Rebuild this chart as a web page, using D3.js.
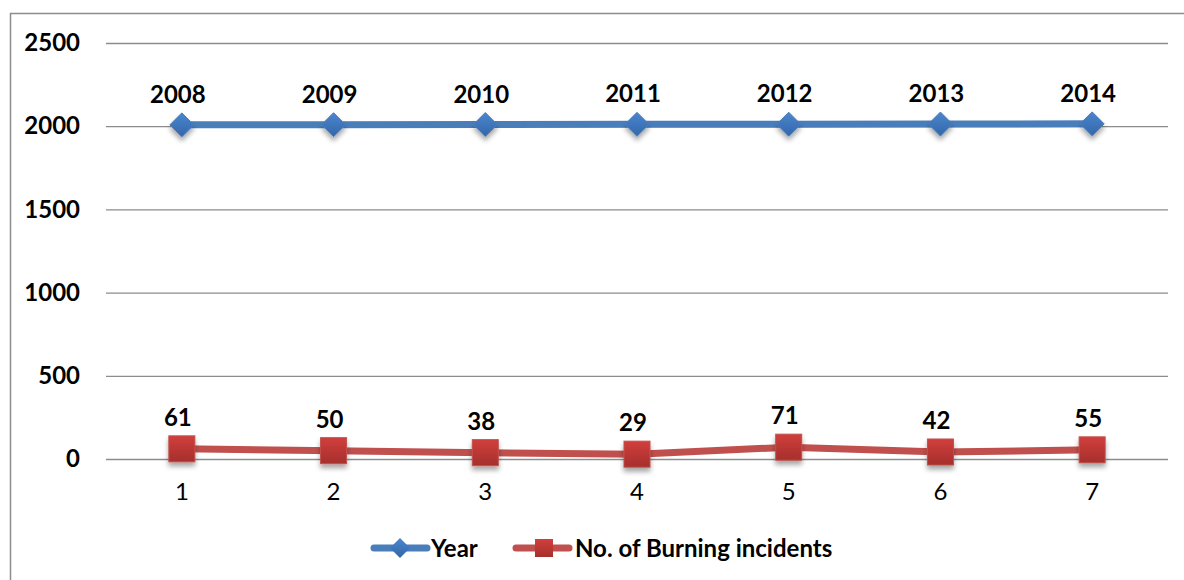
<!DOCTYPE html>
<html>
<head>
<meta charset="utf-8">
<script src="https://cdn.jsdelivr.net/npm/d3@7"></script>
<style>
  html, body { margin: 0; padding: 0; background: #fff; }
  svg { display: block; font-family: Lato, "Open Sans", "Liberation Sans", sans-serif; }
</style>
</head>
<body>
<svg id="chart" width="1184" height="580"></svg>
<script>
// Category indices along the x axis
const categories = [1, 2, 3, 4, 5, 6, 7];
// Series values
const years = [2008, 2009, 2010, 2011, 2012, 2013, 2014];
const burningIncidents = [61, 50, 38, 29, 71, 42, 55];
// Y axis ticks
const yTicks = [0, 500, 1000, 1500, 2000, 2500];
const seriesNames = ["Year", "No. of Burning incidents"];

const svg = d3.select("#chart");
const W = 1184, H = 580;
const plot = { left: 106, right: 1168, top: 43, bottom: 459 };
const FONT = "Lato, 'Open Sans', sans-serif";
const FS = 24;

// Chart-area frame
svg.append("rect")
  .attr("x", 10.5).attr("y", 13.5)
  .attr("width", W + 20).attr("height", H + 20)
  .attr("fill", "none").attr("stroke", "#8c8c8c").attr("stroke-width", 1.5);

const x = d3.scaleBand().domain(categories).range([plot.left, plot.right]);
const y = d3.scaleLinear().domain([0, 2500]).range([plot.bottom, plot.top]);
const cx = d => x(d) + x.bandwidth() / 2;

const defs = svg.append("defs");
const shadow = defs.append("filter").attr("id", "shadow")
  .attr("x", "-50%").attr("y", "-50%").attr("width", "200%").attr("height", "220%");
shadow.append("feDropShadow").attr("dx", 0).attr("dy", 4).attr("stdDeviation", 2.5)
  .attr("flood-color", "#000").attr("flood-opacity", 0.35);

const gBlue = defs.append("linearGradient").attr("id", "gBlue").attr("x1", 0).attr("y1", 0).attr("x2", 0).attr("y2", 1);
gBlue.append("stop").attr("offset", "0%").attr("stop-color", "#4a86cf");
gBlue.append("stop").attr("offset", "100%").attr("stop-color", "#3466a8");
const gRed = defs.append("linearGradient").attr("id", "gRed").attr("x1", 0).attr("y1", 0).attr("x2", 0).attr("y2", 1);
gRed.append("stop").attr("offset", "0%").attr("stop-color", "#d13f3c");
gRed.append("stop").attr("offset", "100%").attr("stop-color", "#a52f2c");

// Horizontal gridlines + y labels
const yAxis = d3.axisLeft(y).tickValues(yTicks).tickFormat(d3.format("d"))
  .tickSize(-(plot.right - plot.left)).tickPadding(26);
const gy = svg.append("g").attr("transform", `translate(${plot.left},0)`).call(yAxis);
gy.select(".domain").remove();
gy.selectAll(".tick line").attr("stroke", "#8c8c8c").attr("stroke-width", 1.3);
gy.selectAll(".tick text")
  .attr("fill", "#000").attr("font-size", FS).attr("font-weight", "bold")
  .attr("font-family", FONT);

// X labels
const xAxis = d3.axisBottom(x).tickSize(0).tickPadding(24);
const gx = svg.append("g").attr("transform", `translate(0,${plot.bottom})`).call(xAxis);
gx.select(".domain").remove();
gx.selectAll(".tick text")
  .attr("fill", "#000").attr("font-size", FS)
  .attr("font-family", FONT);

const line = d3.line().x((d, i) => cx(categories[i])).y(d => y(d));

// Year series
svg.append("path").datum(years).attr("d", line)
  .attr("fill", "none").attr("stroke", "#4a7ebb").attr("stroke-width", 7);
const dSize = 12;
svg.append("g").selectAll("path").data(years).join("path")
  .attr("d", (d, i) => {
    const px = cx(categories[i]), py = y(d);
    return `M${px},${py - dSize}L${px + dSize},${py}L${px},${py + dSize}L${px - dSize},${py}Z`;
  })
  .attr("fill", "url(#gBlue)").attr("stroke", "#4a7ebb").attr("stroke-width", 1)
  .attr("filter", "url(#shadow)");
svg.append("g").selectAll("text").data(years).join("text")
  .attr("x", (d, i) => cx(categories[i]) - 4)
  .attr("y", d => y(d) - 22)
  .attr("text-anchor", "middle").attr("font-size", FS).attr("font-weight", "bold")
  .text(d => d);

// Burning incidents series
svg.append("path").datum(burningIncidents).attr("d", line)
  .attr("fill", "none").attr("stroke", "#c0504d").attr("stroke-width", 7);
const sSize = 26;
svg.append("g").selectAll("rect").data(burningIncidents).join("rect")
  .attr("x", (d, i) => cx(categories[i]) - sSize / 2)
  .attr("y", d => y(d) - sSize / 2)
  .attr("width", sSize).attr("height", sSize)
  .attr("fill", "url(#gRed)").attr("stroke", "#c0504d").attr("stroke-width", 1)
  .attr("filter", "url(#shadow)");
svg.append("g").selectAll("text").data(burningIncidents).join("text")
  .attr("x", (d, i) => cx(categories[i]) - 4)
  .attr("y", d => y(d) - 23)
  .attr("text-anchor", "middle").attr("font-size", FS).attr("font-weight", "bold")
  .text(d => d);

// Legend
const legend = svg.append("g").attr("transform", "translate(0,548)");
legend.append("line").attr("x1", 374).attr("x2", 427).attr("y1", 0).attr("y2", 0)
  .attr("stroke", "#4a7ebb").attr("stroke-width", 7).attr("stroke-linecap", "round");
legend.append("path").attr("d", "M400,-10L410,0L400,10L390,0Z").attr("fill", "url(#gBlue)");
legend.append("text").attr("x", 431).attr("y", 9).attr("font-size", FS).attr("font-weight", "bold").text(seriesNames[0]);
legend.append("line").attr("x1", 516).attr("x2", 569).attr("y1", 0).attr("y2", 0)
  .attr("stroke", "#c0504d").attr("stroke-width", 7).attr("stroke-linecap", "round");
legend.append("rect").attr("x", 535).attr("y", -9).attr("width", 18).attr("height", 18).attr("fill", "url(#gRed)");
legend.append("text").attr("x", 575).attr("y", 9).attr("font-size", FS).attr("font-weight", "bold").text(seriesNames[1]);
</script>
</body>
</html>
